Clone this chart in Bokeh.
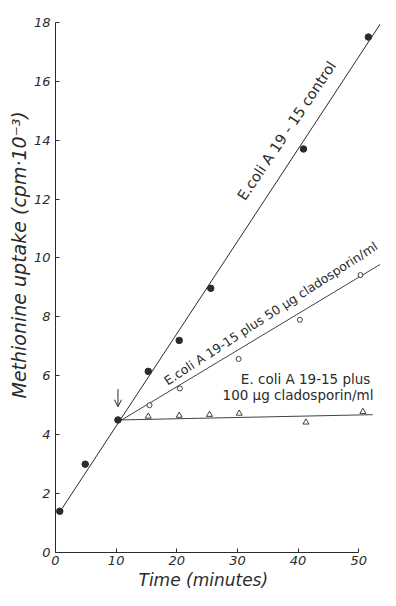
import math
from bokeh.plotting import figure
from bokeh.models import Range1d, Label, Arrow, OpenHead, FixedTicker, Title
from bokeh.embed import file_html
from bokeh.resources import INLINE

# ---- data ----
control_t = [0.7, 4.9, 10.3, 15.3, 20.4, 25.6, 40.9, 51.6]
control_v = [1.4, 3.0, 4.5, 6.15, 7.2, 8.97, 13.7, 17.5]
c50_t = [15.5, 20.5, 30.2, 40.3, 50.3]
c50_v = [5.0, 5.57, 6.57, 7.9, 9.42]
c100_t = [15.3, 20.4, 25.4, 30.3, 41.3, 50.7]
c100_v = [4.62, 4.65, 4.68, 4.72, 4.42, 4.78]

control_fit_t = [1.1, 54.7]
control_fit_v = [1.5, 18.3]
c50_fit_t = [10.5, 54.5]
c50_fit_v = [4.45, 9.9]
c100_fit_t = [10.5, 52.3]
c100_fit_v = [4.5, 4.68]

x_ticks = [0, 10, 20, 30, 40, 50]
y_ticks = [0, 2, 4, 6, 8, 10, 12, 14, 16, 18]

INK = "#2b2b2b"
FONT = "DejaVu Sans"

p = figure(width=380, height=590, output_backend="svg", toolbar_location=None,
           x_range=Range1d(0, 53.6), y_range=Range1d(0, 18.3),
           min_border_left=55, min_border_right=0, min_border_top=13,
           min_border_bottom=38)
p.outline_line_color = None
p.grid.visible = False
p.background_fill_color = "white"

for ax in (p.xaxis[0], p.yaxis[0]):
    ax.axis_line_color = INK
    ax.axis_line_width = 1
    ax.major_tick_line_color = INK
    ax.major_tick_in = 4
    ax.major_tick_out = 0
    ax.minor_tick_line_color = None
    ax.major_label_text_font = FONT
    ax.major_label_text_font_style = "italic"
    ax.major_label_text_font_size = "13px"
    ax.major_label_text_color = INK
    ax.axis_label_standoff = 0

p.xaxis[0].ticker = FixedTicker(ticks=x_ticks)
p.yaxis[0].ticker = FixedTicker(ticks=y_ticks)
p.xaxis[0].bounds = (0, 50)
p.yaxis[0].bounds = (0, 18)
p.xaxis[0].major_label_standoff = 3
p.yaxis[0].major_label_standoff = 5

# axis titles
p.add_layout(Title(text="Time (minutes)", align="left", offset=83, standoff=0,
                   text_font=FONT, text_font_size="17px", text_font_style="italic",
                   text_color=INK), "below")
p.add_layout(Title(text="Methionine uptake  (cpm·10⁻³)", align="left", offset=154,
                   standoff=2, text_font=FONT, text_font_size="19px",
                   text_font_style="italic", text_color=INK), "left")

# fitted lines
p.line(control_fit_t, control_fit_v, line_color=INK, line_width=1)
p.line(c50_fit_t, c50_fit_v, line_color=INK, line_width=0.9)
p.line(c100_fit_t, c100_fit_v, line_color=INK, line_width=0.9)

# points
p.scatter(control_t, control_v, marker="circle", size=6.5, fill_color=INK, line_color=INK)
p.scatter(c50_t, c50_v, marker="circle", size=5, fill_color="white", line_color=INK, line_width=0.9)
p.scatter(c100_t, c100_v, marker="triangle", size=6, fill_color="white", line_color=INK, line_width=0.9)

# arrow marking the addition
p.add_layout(Arrow(end=OpenHead(size=7, line_color=INK, line_width=1),
                   x_start=10.3, y_start=5.55, x_end=10.3, y_end=4.95,
                   line_color=INK, line_width=1))

def lab(x, y, text, size, angle_deg=0, style="normal"):
    p.add_layout(Label(x=x, y=y, text=text, angle=math.radians(angle_deg),
                       text_align="center", text_baseline="middle",
                       text_font=FONT, text_font_size=size,
                       text_font_style=style, text_color=INK))

lab(38.15, 14.32, "E.coli A 19 - 15 control", "14.5px", 56)
lab(35.5, 8.12, "E.coli A 19-15 plus 50 µg cladosporin/ml", "12.5px", 33)
lab(41.25, 5.9, "E. coli A 19-15 plus", "13.5px")
lab(40.0, 5.34, "100 µg cladosporin/ml", "13.5px")

open("out.html", "w").write(file_html(p, INLINE))
